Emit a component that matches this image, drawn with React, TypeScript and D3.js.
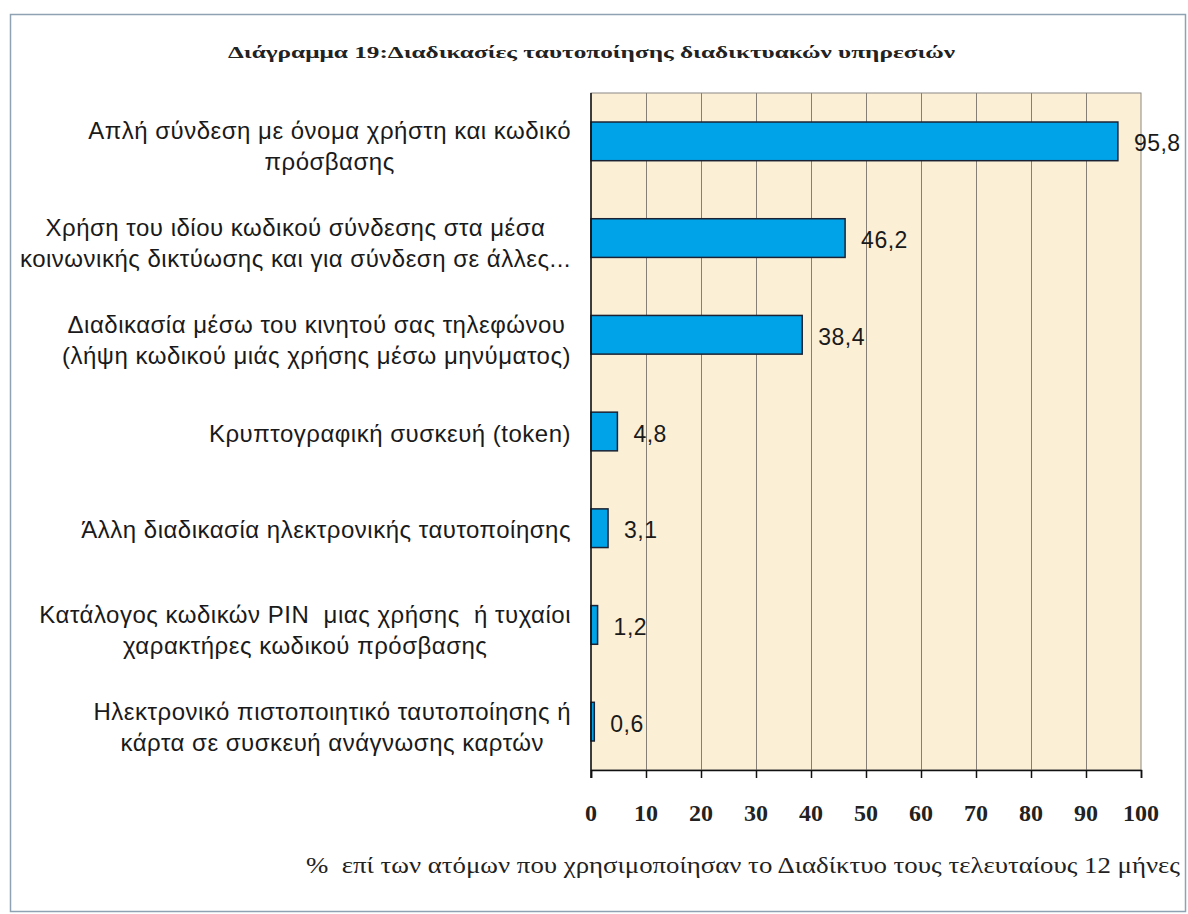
import React, { useEffect, useRef } from "react";
import * as d3 from "d3";

const chartTitle = "Διάγραμμα 19:Διαδικασίες ταυτοποίησης διαδικτυακών υπηρεσιών";
const axisTitle = "%  επί των ατόμων που χρησιμοποίησαν το Διαδίκτυο τους τελευταίους 12 μήνες";

const categories = [
  "Απλή σύνδεση με όνομα χρήστη και κωδικό\nπρόσβασης",
  "Χρήση του ιδίου κωδικού σύνδεσης στα μέσα\nκοινωνικής δικτύωσης και για σύνδεση σε άλλες...",
  "Διαδικασία μέσω του κινητού σας τηλεφώνου\n(λήψη κωδικού μιάς χρήσης μέσω μηνύματος)",
  "Κρυπτογραφική συσκευή (token)",
  "Άλλη διαδικασία ηλεκτρονικής ταυτοποίησης",
  "Κατάλογος κωδικών PIN  μιας χρήσης  ή τυχαίοι\nχαρακτήρες κωδικού πρόσβασης",
  "Ηλεκτρονικό πιστοποιητικό ταυτοποίησης ή\nκάρτα σε συσκευή ανάγνωσης καρτών",
];
const values = [95.8, 46.2, 38.4, 4.8, 3.1, 1.2, 0.6];
const ticks = [0, 10, 20, 30, 40, 50, 60, 70, 80, 90, 100];

export default function App() {
  const ref = useRef<SVGSVGElement>(null);

  useEffect(() => {
    document.body.style.margin = "0";
    const width = 1188,
      height = 914;
    const left = 591,
      right = 1141,
      top = 93,
      bottom = 770;

    const svg = d3.select(ref.current).attr("width", width).attr("height", height);
    svg.selectAll("*").remove();

    svg.append("rect").attr("width", width).attr("height", height).attr("fill", "#ffffff");
    svg.append("rect")
      .attr("x", 10.5).attr("y", 14.5)
      .attr("width", 1175).attr("height", 897)
      .attr("fill", "none").attr("stroke", "#8fa2b3").attr("stroke-width", 1.5);

    const x = d3.scaleLinear().domain([0, 100]).range([left, right]);
    const y = d3.scaleBand<string>().domain(categories).range([top, bottom])
      .paddingInner(0.6).paddingOuter(0.3);

    // plot area
    svg.append("rect")
      .attr("x", left).attr("y", top)
      .attr("width", right - left).attr("height", bottom - top)
      .attr("fill", "#fbefd6").attr("stroke", "#8c8884").attr("stroke-width", 1);

    svg.append("g").selectAll("line")
      .data(ticks.filter((t) => t > 0 && t < 100))
      .join("line")
      .attr("x1", (d) => x(d) + 0.5).attr("x2", (d) => x(d) + 0.5)
      .attr("y1", top).attr("y2", bottom)
      .attr("stroke", "#857f76").attr("stroke-width", 1);

    // bars
    svg.append("g").selectAll("rect")
      .data(values)
      .join("rect")
      .attr("x", x(0))
      .attr("y", (d, i) => y(categories[i])!)
      .attr("width", (d) => x(d) - x(0))
      .attr("height", y.bandwidth())
      .attr("fill", "#00a3e8")
      .attr("stroke", "#1b2233").attr("stroke-width", 1.5);

    // value labels
    svg.append("g").selectAll("text")
      .data(values)
      .join("text")
      .attr("x", (d) => x(d) + 16)
      .attr("y", (d, i) => y(categories[i])! + y.bandwidth() / 2 + 10)
      .attr("font-family", "Liberation Sans, Arial, sans-serif")
      .attr("font-size", 23)
      .attr("letter-spacing", 0.5)
      .attr("fill", "#1a1a1a")
      .text((d) => d3.format(".1f")(d).replace(".", ","));

    // x axis
    const axis = svg.append("g")
      .attr("transform", `translate(0,${bottom})`)
      .call(d3.axisBottom(x).tickValues(ticks).tickSize(8).tickFormat(() => ""));
    axis.select(".domain").attr("stroke", "#111").attr("stroke-width", 1.5);
    axis.selectAll(".tick line").attr("stroke", "#111").attr("stroke-width", 1.5);

    svg.append("line")
      .attr("x1", left).attr("x2", left).attr("y1", top).attr("y2", bottom + 8)
      .attr("stroke", "#111").attr("stroke-width", 1.5);

    svg.append("g").selectAll("text")
      .data(ticks)
      .join("text")
      .attr("x", (d) => x(d))
      .attr("y", 821)
      .attr("text-anchor", "middle")
      .attr("font-family", "Liberation Serif, Times New Roman, serif")
      .attr("font-weight", "bold")
      .attr("font-size", 24)
      .attr("fill", "#222")
      .text((d) => d);

    // category labels, wrapped and centred, right-aligned to the axis
    const labelRight = 571;
    categories.forEach((c) => {
      const lines = c.split("\n");
      const cy = y(c)! + y.bandwidth() / 2;
      const g = svg.append("g");
      const texts = lines.map((ln, j) =>
        g.append("text")
          .attr("y", lines.length > 1 ? cy - 2 + j * 31 : cy + 10)
          .attr("text-anchor", "middle")
          .attr("font-family", "Liberation Sans, Arial, sans-serif")
          .attr("font-size", 24)
          .attr("letter-spacing", 0.5)
          .style("white-space", "pre")
          .attr("fill", "#1a1a1a")
          .text(ln)
      );
      const w = d3.max(texts, (t) => (t.node() as SVGTextElement).getComputedTextLength())!;
      texts.forEach((t) => t.attr("x", labelRight - w / 2));
    });

    // titles
    svg.append("text")
      .attr("x", 228).attr("y", 58)
      .attr("font-family", "Liberation Serif, Times New Roman, serif")
      .attr("font-weight", "bold")
      .attr("font-size", 17)
      .attr("textLength", 727).attr("lengthAdjust", "spacingAndGlyphs")
      .attr("fill", "#222")
      .text(chartTitle);

    svg.append("text")
      .attr("x", 306).attr("y", 873)
      .attr("font-family", "Liberation Serif, Times New Roman, serif")
      .attr("font-size", 24)
      .style("white-space", "pre")
      .attr("textLength", 874).attr("lengthAdjust", "spacingAndGlyphs")
      .attr("fill", "#222")
      .text(axisTitle);
  }, []);

  return <svg ref={ref} style={{ display: "block" }}></svg>;
}
